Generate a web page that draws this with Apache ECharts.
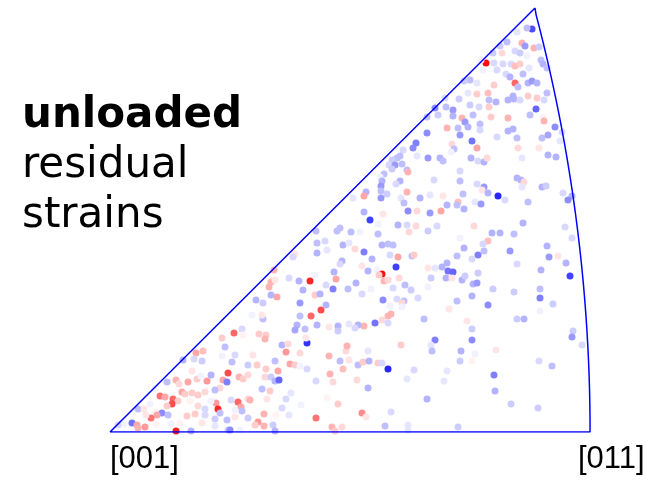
<!DOCTYPE html>
<html>
<head>
<meta charset="utf-8">
<script src="https://cdn.jsdelivr.net/npm/echarts@6/dist/echarts.min.js"></script>
<style>html,body{margin:0;padding:0;background:#fff}#c{width:660px;height:480px}</style>
</head>
<body>
<div id="c"></div>
<script>
// Inverse pole figure (stereographic triangle). Coordinates in projection units
// where [001]=(0,0), [011]=(480,0), [111]=(425,424).
const cornerLabels = ['[001]', '[011]'];
const titleBold = 'unloaded';
const titleLines = ['residual', 'strains'];
// residual strain (normalised, -1 = compressive/blue, +1 = tensile/red)
const strainMin = -1, strainMax = 1;

const grainsTop = [
[422,403,-0.7],[417,404,-0.25],[407,400,-0.1],[412,389,0.3],[415,386,-0.4],[424,384,0.3],[429,385,-0.2],[397,390,-0.25],[390,386,-0.2],[383,379,-0.2],
[392,379,0.15],[405,381,-0.15],[410,379,-0.2],[417,376,-0.05],[431,372,-0.25],[433,368,-0.3],[437,364,-0.25],[376,369,0.95],[384,369,-0.15],[393,368,-0.15],
[401,368,-0.15],[405,366,0.25],[410,368,0.2],[387,362,-0.15],[396,358,-0.15],[400,355,-0.3],[413,358,-0.25],[419,364,-0.1],[405,349,0.6],[408,345,-0.25],
[418,349,-0.3],[422,351,-0.4],[427,349,-0.3],[371,372,-0.05],[373,362,-0.05],[360,352,-0.25],[354,351,-0.2],[367,349,-0.1],[384,347,0.2],[378,339,0.25],
[367,338,0.2],[358,339,-0.1],[379,332,-0.25],[386,330,-0.3],[398,332,-0.3],[403,336,-0.3],[404,333,-0.3],[410,332,-0.15],[418,336,0.2],[427,334,0.2],
[437,339,-0.25],[434,332,-0.15],[426,323,-0.6],[420,317,-0.25],[433,315,0.05],[379,325,0.2],[369,325,-0.15],[360,327,-0.2],[349,333,-0.2],[336,325,-0.25],
[343,322,-0.4],[325,324,-0.45],[335,334,-0.15],[343,316,-0.3],[352,314,0.3],[363,317,-0.25],[381,315,0.2],[398,314,0.3],[328,317,-0.2],[317,315,-0.25]
];
const grainsUpperMid = [
[337,304,0.3],[317,299,-0.45],[306,289,-0.5],[303,284,-0.45],[293,282,-0.15],[307,276,-0.1],[290,276,-0.25],[287,274,-0.25],[282,272,-0.2],[318,274,-0.4],
[330,274,-0.3],[333,271,-0.25],[279,267,-0.15],[285,267,-0.4],[292,268,-0.25],[282,263,-0.2],[297,262,-0.25],[298,260,0.3],[274,258,-0.25],[270,255,-0.05],
[324,252,-0.15],[290,251,-0.3],[272,251,-0.3],[271,246,-0.4],[286,248,-0.15],[271,241,-0.25],[277,238,-0.2],[297,240,0.3],[256,240,-0.3],[254,236,0.35],
[271,234,-0.4],[243,234,-0.1],[291,234,-0.1],[310,234,-0.3],[320,237,-0.1],[333,236,0.1],[337,227,-0.3],[294,229,-0.25],[307,221,0.15],[298,221,-0.45],
[320,219,-0.4],[331,221,0.35],[254,220,-0.3],[273,218,0.1],[260,212,-0.75],[268,208,-0.05],[288,207,-0.3],[297,207,-0.15],[306,206,0.15],[327,206,-0.15],
[299,200,0.15],[318,201,-0.2],[230,204,-0.25],[227,201,-0.25],[241,200,-0.25],[268,198,-0.25],[250,200,-0.05],
[355,310,-0.4],[370,308,-0.25],[434,311,0.3],[445,305,-0.45],[452,300,-0.15],[348,304,-0.25],[350,297,-0.4],[358,305,-0.3],[370,302,-0.15],[362,291,-0.55],
[367,284,0.35],[342,288,0.15],[344,283,-0.25],[341,280,-0.05],[387,295,-0.15],[398,301,-0.3],[403,303,-0.3],[407,294,-0.25],[408,284,0.15],[429,284,0.1],
[432,294,-0.25],[438,297,-0.35],[450,291,-0.1],[438,277,-0.3],[446,275,-0.3],[361,274,-0.3],[368,271,-0.15],[374,270,-0.3],[377,274,0.15],[412,274,-0.1],
[350,261,-0.15],[407,254,-0.3],[411,252,-0.3],[414,250,0.15],[412,245,-0.1],[350,251,-0.25],[367,248,-0.15],[374,245,-0.4],[372,242,0.1],[378,239,-0.3],
[388,236,-0.85],[395,232,-0.15],[432,245,-0.3],[436,246,-0.2],[453,239,-0.15],[462,236,-0.3],[458,232,-0.45],[353,238,-0.25],[348,230,0.25],[347,227,-0.25],
[354,223,-0.3],[365,230,-0.1],[371,228,-0.4],[418,230,-0.25],[364,206,0.15],[413,209,-0.3],[455,205,-0.15],[382,199,-0.3],[390,199,-0.3],[404,198,-0.25]
];
const grainsLowerMid = [
[206,201,-0.25],[207,189,-0.25],[215,191,-0.15],[217,182,-0.1],[207,179,-0.3],[185,178,0.1],[183,175,-0.15],[164,162,0.3],[161,150,0.3],[165,152,0.1],
[159,145,0.3],[179,154,-0.15],[189,151,-0.3],[205,157,-0.05],[200,151,0.85],[216,147,-0.15],[193,142,-0.3],[161,137,-0.3],[167,135,0.35],[146,132,-0.3],
[153,129,-0.2],[190,129,-0.4],[205,137,0.2],[210,138,-0.3],[211,122,0.7],[216,127,-0.3],[201,116,0.6],[190,116,-0.25],[207,107,-0.3],[187,107,-0.3],
[185,102,-0.35],[195,103,-0.25],[153,113,-0.25],[152,117,0.1],[142,117,-0.05],[124,99,0.6],[132,103,-0.15],[133,97,0.05],[149,98,0.2],[156,97,0.2],
[155,93,0.3],[112,94,0.2],[197,89,-0.8],[196,94,0.1],[219,105,0.1],
[233,187,-0.3],[239,189,-0.1],[245,183,0.15],[254,180,-0.5],[272,187,-0.3],[278,188,-0.25],[283,187,-0.25],[280,177,-0.15],[288,175,0.35],[302,176,-0.25],
[304,177,0.2],[232,171,-0.3],[230,168,-0.15],[262,173,-0.3],[286,165,-0.75],[252,166,0.1],[258,161,-0.3],[267,162,-0.05],[272,158,0.95],[269,157,0.2],
[274,151,0.3],[278,152,0.15],[289,154,0.15],[295,147,-0.25],[301,142,-0.2],[283,144,-0.15],[224,160,-0.3],[226,153,0.35],[238,143,-0.25],[246,149,-0.3],
[223,143,-0.5],[252,138,-0.15],[261,143,-0.05],[273,132,-0.45],[287,133,-0.15],[294,131,-0.25],[292,129,0.15],[308,134,-0.15],[280,126,-0.05],[292,125,-0.05],
[318,164,0.1],[321,154,-0.2],[318,145,-0.05],[325,164,-0.1],[332,165,-0.3],[337,169,-0.3],[338,161,-0.55],[343,160,-0.6],[336,154,-0.3],[342,154,0.1],
[347,176,-0.25],[347,131,-0.25],[339,123,0.1],[281,118,0.3],[278,116,0.3],[272,112,0.15],[278,109,-0.15],[265,109,-0.55],[254,106,0.3],[248,107,-0.3],
[245,104,-0.15],[239,108,-0.1],[228,106,-0.3],[228,101,-0.2],[314,113,-0.25],[325,92,-0.5],
[350,194,-0.05],[378,191,0.25],[373,188,-0.15],[374,181,-0.25],[354,184,-0.3],[368,177,-0.5],[362,173,-0.15],[400,181,-0.4],[407,168,-0.15],[437,186,-0.3],
[439,175,-0.4],[448,176,0.1],[462,194,-0.15],[456,169,-0.3],[460,156,-0.75],[431,162,-0.3],[352,152,-0.3],[355,156,-0.2],[363,148,-0.3],[367,149,-0.4],
[368,159,-0.2],[383,143,-0.2],[404,140,-0.2],[430,143,-0.25],[430,134,-0.5],[443,128,-0.2],[430,121,-0.05],[362,136,-0.3],[378,127,-0.45],[357,111,0.1],
[362,103,-0.2],[362,92,-0.45],[407,113,-0.2],[414,113,-0.3],[463,101,-0.2],[462,95,-0.4]
];
const grainsBottom = [
[86,79,0.35],[93,81,0.25],[73,72,-0.3],[84,73,-0.15],[92,71,-0.2],[115,85,-0.25],[118,59,0.7],[112,76,-0.05],[82,61,0.1],[101,57,-0.3],
[97,51,0.4],[87,53,0.2],[78,50,0.35],[66,52,0.3],[69,48,0.15],[57,50,-0.25],[91,56,-0.05],[113,52,0.35],[117,50,-0.5],[110,44,0.15],
[105,42,-0.25],[72,40,0.35],[75,38,0.2],[82,39,0.2],[88,37,0.2],[95,40,0.15],[50,36,0.55],[45,43,-0.05],[63,33,0.6],[55,35,0.35],
[68,31,0.2],[62,28,0.7],[57,26,0.2],[80,31,0.05],[88,26,0.15],[95,23,-0.15],[106,29,0.4],[108,23,0.85],[110,19,-0.25],[101,31,-0.05],
[40,28,-0.05],[28,23,-0.25],[34,23,0.1],[46,20,0.05],[52,19,-0.45],[58,17,-0.25],[47,17,0.35],[41,14,0.55],[36,17,0.1],[77,16,0.2],
[85,18,0.2],[95,17,-0.15],[105,13,-0.2],[22,9,-0.55],[27,7,0.35],[28,4,0.3],[35,5,0.4],[46,8,0.05],[14,8,-0.05],[8,7,-0.15],
[66,1,0.9],[81,1,-0.3],[61,8,-0.05],[70,9,0.05],[92,9,0.1],[105,6,-0.1],[117,12,-0.25],[118,2,-0.2],
[172,87,-0.3],[178,88,0.15],[176,80,0.4],[190,79,0.15],[125,77,-0.15],[143,77,0.1],[122,70,-0.25],[138,67,-0.2],[147,67,0.2],[156,63,0.2],
[165,71,-0.25],[180,68,0.35],[185,67,0.2],[190,66,-0.05],[197,63,-0.15],[168,61,0.35],[219,76,0.3],[230,71,-0.25],[233,63,0.25],[236,81,0.15],
[220,58,0.3],[129,55,0.3],[133,53,0.2],[138,57,0.15],[155,55,0.15],[161,55,-0.2],[165,51,-0.3],[169,52,-0.6],[206,51,-0.15],[223,50,0.15],
[152,43,-0.25],[160,41,0.2],[181,39,-0.1],[176,33,-0.15],[157,33,0.1],[138,33,0.15],[140,32,0.3],[121,32,-0.15],[128,30,0.6],[131,25,0.35],
[132,21,-0.25],[125,22,-0.05],[172,24,-0.15],[191,27,-0.05],[228,28,0.2],[217,34,0.05],[154,18,0.3],[166,17,0.05],[179,17,-0.1],[138,14,-0.2],
[125,15,0.1],[206,14,0.55],[148,10,0.4],[145,7,0.2],[154,6,0.3],[120,2,-0.45],[130,2,-0.05],[163,7,-0.2],[165,1,-0.3],[222,5,0.3],
[225,1,0.2],[232,5,0.15],
[321,87,-0.1],[322,81,-0.25],[351,81,-0.3],[291,87,0.2],[237,86,0.3],[258,81,-0.1],[239,72,0.1],[248,67,-0.25],[253,70,0.2],[259,71,-0.3],
[268,69,0.2],[272,69,-0.15],[278,63,-0.85],[304,62,-0.15],[337,61,-0.1],[350,71,-0.2],[247,52,0.15],[297,53,-0.1],[334,51,-0.1],[258,44,-0.3],
[317,33,-0.3],[252,19,0.45],[256,15,0.1],[281,20,-0.15],[275,6,-0.25],[298,7,-0.1],[298,2,-0.1],[348,5,-0.2],
[472,87,-0.15],[365,78,-0.05],[386,82,0.1],[362,71,0.05],[429,71,-0.15],[442,66,-0.25],[384,57,-0.5],[385,41,-0.3],[401,28,-0.2],[428,24,-0.2]
];
const grains = grainsTop.concat(grainsUpperMid, grainsLowerMid, grainsBottom);

// Triangle boundary: [001] -> [011] straight, [011] -> [111] great-circle arc, [111] -> [001] straight
const S = 1159;              // projection units per stereographic unit
const apex = [425, 424];
const outline = [[0, 0], [480, 0]];
const cx = -S, R = S * Math.SQRT2;
const a0 = 0, a1 = Math.atan2(apex[1], apex[0] - cx);
for (let i = 1; i < 60; i++) {
  const a = a0 + (a1 - a0) * i / 60;
  outline.push([cx + R * Math.cos(a), R * Math.sin(a)]);
}
outline.push(apex, [0, 0]);

const chart = echarts.init(document.getElementById('c'), null, {renderer: 'canvas'});
chart.setOption({
  animation: false,
  backgroundColor: '#ffffff',
  grid: {left: 110, top: 8, width: 480, height: 424},
  xAxis: {type: 'value', min: 0, max: 480, show: false},
  yAxis: {type: 'value', min: 0, max: 424, show: false},
  visualMap: {
    type: 'continuous', show: false, seriesIndex: 0, dimension: 2,
    min: strainMin, max: strainMax,
    inRange: {color: ['#0000ff', '#ffffff', '#ff0000']}
  },
  graphic: [
    {type: 'text', left: 22, top: 95, style: {text: titleBold, font: 'bold 42px "DejaVu Sans"', fill: '#000'}},
    {type: 'text', left: 22, top: 145, style: {text: titleLines[0], font: '42px "DejaVu Sans"', fill: '#000'}},
    {type: 'text', left: 22, top: 195, style: {text: titleLines[1], font: '42px "DejaVu Sans"', fill: '#000'}},
    {type: 'text', left: 110, top: 444, style: {text: cornerLabels[0], font: '31px "Liberation Sans"', fill: '#000'}},
    {type: 'text', left: 578, top: 444, style: {text: cornerLabels[1], font: '31px "Liberation Sans"', fill: '#000'}}
  ],
  series: [
    {type: 'scatter', data: grains, symbolSize: 7, itemStyle: {opacity: 1}, z: 2},
    {type: 'line', data: outline, showSymbol: false, symbol: 'none', z: 3,
     lineStyle: {color: '#0000ff', width: 1.5}, silent: true}
  ]
});
</script>
</body>
</html>
